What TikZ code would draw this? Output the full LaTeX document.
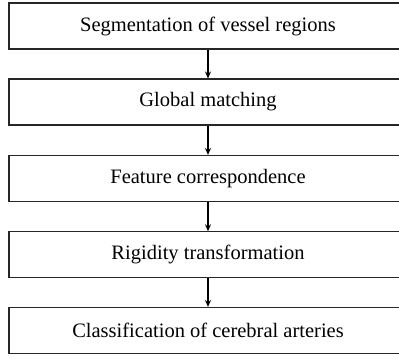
\documentclass[tikz,border=0pt]{standalone}
\usepackage{fontspec}
\setmainfont{Liberation Serif}
\usetikzlibrary{arrows.meta}
\begin{document}
\begin{tikzpicture}[x=1pt,y=-1pt,
  stepbox/.style={draw=black!85, line width=1.1pt, minimum width=398pt, minimum height=46pt, inner sep=0pt, font=\fontsize{20.5}{22}\selectfont},
  flow/.style={line width=1.8pt, -{Stealth[length=7pt,width=6pt]}}]
\useasboundingbox[clip] (0,0) rectangle (399,360);
\node[stepbox] (a) at (208,26) {Segmentation of vessel regions};
\node[stepbox] (b) at (208,102) {Global matching};
\node[stepbox] (c) at (208,178.5) {Feature correspondence};
\node[stepbox] (d) at (208,254.8) {Rigidity transformation};
\node[stepbox] (e) at (208,330.5) {Classification of cerebral arteries};
\draw[flow] (a) -- (b);
\draw[flow] (b) -- (c);
\draw[flow] (c) -- (d);
\draw[flow] (d) -- (e);
\end{tikzpicture}
\end{document}
